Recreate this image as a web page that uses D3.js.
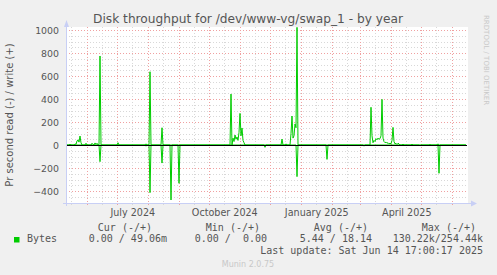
<!DOCTYPE html>
<html><head><meta charset="utf-8">
<script src="https://cdn.jsdelivr.net/npm/d3@7"></script>
<style>body{margin:0;background:#f0f0f0}svg{display:block}</style>
</head><body>
<script>
// ---- data ----
const startDate = new Date(2024, 4, 10, 17, 0, 0);
const endDate = new Date(2025, 5, 14, 17, 0, 0);
// day offsets from startDate and values (bytes/s)
const writeDays = [4, 9, 10, 11, 12, 13, 14, 15, 20, 26, 27, 29, 30, 31, 34, 52, 80, 84, 96,
  165, 167, 168, 169, 170, 171, 172, 173, 174, 175, 176, 177, 178, 216, 220,
  225, 226, 227, 228, 229, 230, 231,
  305, 306, 307, 308, 309, 310, 311, 312, 313, 314, 315, 316, 317, 318, 319, 320, 321, 322, 323, 324, 325, 326, 327, 328, 329, 330, 331, 332, 333,
  337, 346, 364, 372];
const writeValues = [8, 10, 5, 35, 45, 25, 78, 20, 15, 15, 5, 18, 5, 15, 774, 20, 10, 637, 150,
  443, 60, 30, 87, 50, 70, 40, 110, 275, 80, 148, 40, 20, 52, 10,
  100, 252, 60, 80, 183, 150, 1023,
  328, 80, 20, 40, 30, 55, 45, 60, 50, 55, 80, 397, 60, 30, 20, 25, 15, 20, 10, 15, 10, 40, 153, 30, 10, 15, 5, 15, 10,
  8, 8, 5, 10];
const readDays = [34, 80, 84, 96, 105, 113, 199, 231, 261, 298, 354, 373];
const readValues = [145, 10, 414, 157, 478, 333, 20, 275, 125, 10, 5, 246];
const yTicks = [-400, -200, 0, 200, 400, 600, 800, 1000];
const legendHeaders = ["Cur (-/+)", "Min (-/+)", "Avg (-/+)", "Max (-/+)"];
const legendValues = ["0.00 / 49.06m", "0.00 /  0.00", "5.44 / 18.14", "130.22k/254.44k"];
const seriesName = "Bytes";

// ---- layout ----
const W = 497, H = 275;
const L = 66, R = 466, T = 27, B = 203;
const svg = d3.select("body").append("svg").attr("width", W).attr("height", H)
  .style("font-family", "'DejaVu Sans', sans-serif");
svg.append("rect").attr("width", W).attr("height", H).attr("fill", "#f0f0f0");

const x = d3.scaleTime().domain([startDate, endDate]).range([L, R]);
const y = d3.scaleLinear().domain([-500, 1000]).range([202.5, 30]);

svg.append("rect").attr("x", L).attr("y", T).attr("width", R - L + 2).attr("height", B - T).attr("fill", "#fff");

const grid = svg.append("g");
// minor horizontal every 50
d3.range(-500, 1001, 50).forEach(v => {
  if (v % 200 === 0) return;
  grid.append("line").attr("x1", L).attr("x2", R + 2).attr("y1", Math.round(y(v)) + 0.5).attr("y2", Math.round(y(v)) + 0.5)
    .attr("stroke", "#d8d8d8").attr("stroke-dasharray", "1,2");
});
// minor vertical at mid-month
const months = d3.timeMonth.range(d3.timeMonth.floor(startDate), endDate);
months.forEach(m => {
  const mid = new Date(m.getFullYear(), m.getMonth(), 16);
  if (mid <= startDate || mid >= endDate) return;
  const px = Math.round(x(mid)) + 0.5;
  grid.append("line").attr("x1", px).attr("x2", px).attr("y1", T).attr("y2", B + 2)
    .attr("stroke", "#d8d8d8").attr("stroke-dasharray", "1,2");
});
// major horizontal
yTicks.forEach(v => {
  grid.append("line").attr("x1", L).attr("x2", R + 2).attr("y1", Math.round(y(v)) + 0.5).attr("y2", Math.round(y(v)) + 0.5)
    .attr("stroke", "#f0a0a0").attr("stroke-dasharray", "1,2");
});
// major vertical at month starts
d3.timeMonth.range(d3.timeMonth.ceil(startDate), endDate).forEach(m => {
  const px = Math.round(x(m)) + 0.5;
  grid.append("line").attr("x1", px).attr("x2", px).attr("y1", T).attr("y2", B + 3)
    .attr("stroke", "#f0a0a0").attr("stroke-dasharray", "1,2");
});

// series
function dense(days, vals, sign) {
  const n = d3.timeDay.count(startDate, endDate);
  const arr = new Array(n + 1).fill(0);
  days.forEach((d, i) => { arr[d] = sign * vals[i]; });
  return arr.map((v, i) => [d3.timeDay.offset(startDate, i), v]);
}
const line = d3.line().x(d => x(d[0])).y(d => y(d[1]));
svg.append("path").datum(dense(writeDays, writeValues, 1)).attr("d", line)
  .attr("fill", "none").attr("stroke", "#00cc00").attr("stroke-width", 1);
svg.append("path").datum(dense(readDays, readValues, -1)).attr("d", line)
  .attr("fill", "none").attr("stroke", "#00cc00").attr("stroke-width", 1);

// zero line
svg.append("line").attr("x1", L).attr("x2", R + 1).attr("y1", Math.round(y(0)) + 0.5).attr("y2", Math.round(y(0)) + 0.5)
  .attr("stroke", "#000").attr("stroke-width", 1);

// axes lines
const axisCol = "#c8cff5";
svg.append("line").attr("x1", L + 0.5).attr("x2", L + 0.5).attr("y1", 24).attr("y2", B + 3).attr("stroke", axisCol);
svg.append("line").attr("x1", L - 3).attr("x2", R + 6).attr("y1", B + 0.5).attr("y2", B + 0.5).attr("stroke", axisCol);
svg.append("path").attr("d", `M${L - 2},${27} L${L + 0.5},${20} L${L + 3},${27} Z`).attr("fill", axisCol);
svg.append("path").attr("d", `M${R + 5},${B - 2.5} L${R + 11},${B + 0.5} L${R + 5},${B + 3.5} Z`).attr("fill", axisCol);

// y tick labels
const txt = "#555";
const ya = svg.append("g").attr("transform", `translate(${L},0)`)
  .call(d3.axisLeft(y).tickValues(yTicks).tickSize(0).tickPadding(7).tickFormat(d3.format("d")));
ya.select(".domain").remove();
ya.selectAll("text").attr("fill", txt).style("font-size", "9.4px").style("font-family", "'DejaVu Sans', sans-serif");

// x labels (mid-month, quarterly)
const xLabelDates = [new Date(2024, 6, 16), new Date(2024, 9, 16), new Date(2025, 0, 16), new Date(2025, 3, 16)];
const xa = svg.append("g").attr("transform", `translate(0,${B})`)
  .call(d3.axisBottom(x).tickValues(xLabelDates).tickSize(0).tickPadding(6).tickFormat(d3.timeFormat("%B %Y")));
xa.select(".domain").remove();
xa.selectAll("text").attr("fill", txt).style("font-size", "9.6px").style("font-family", "'DejaVu Sans', sans-serif");

// title
svg.append("text").attr("x", 248).attr("y", 23).attr("text-anchor", "middle").attr("fill", txt)
  .style("font-size", "12.2px").text("Disk throughput for /dev/www-vg/swap_1 - by year");
// y title
svg.append("text").attr("transform", "translate(13,115) rotate(-90)").attr("text-anchor", "middle").attr("fill", txt)
  .style("font-size", "10px").text("Pr second read (-) / write (+)");
// rrdtool
svg.append("text").attr("transform", "translate(484,15) rotate(90)").attr("fill", "#c8c8c8")
  .style("font-size", "7px").text("RRDTOOL / TOBI OETIKER");

// legend
const mono = "'DejaVu Sans Mono', monospace";
const colEnds = [152, 260, 368, 476];
const valEnds = [167, 267, 372, 483];
legendHeaders.forEach((h, i) => {
  svg.append("text").attr("x", colEnds[i]).attr("y", 231).attr("text-anchor", "end").attr("fill", txt)
    .style("font-family", mono).style("font-size", "10px").style("white-space", "pre").text(h);
});
legendValues.forEach((v, i) => {
  svg.append("text").attr("x", valEnds[i]).attr("y", 242).attr("text-anchor", "end").attr("fill", txt)
    .style("font-family", mono).style("font-size", "10px").attr("xml:space", "preserve").style("white-space", "pre").text(v);
});
svg.append("rect").attr("x", 14).attr("y", 237).attr("width", 5.5).attr("height", 5.5).attr("fill", "#00cc00");
svg.append("text").attr("x", 27).attr("y", 242).attr("fill", txt)
  .style("font-family", mono).style("font-size", "10px").text(seriesName);
svg.append("text").attr("x", 483).attr("y", 254).attr("text-anchor", "end").attr("fill", txt)
  .style("font-family", mono).style("font-size", "10px").text("Last update: Sat Jun 14 17:00:17 2025");
svg.append("text").attr("x", 248).attr("y", 267).attr("text-anchor", "middle").attr("fill", "#c8c8c8")
  .style("font-size", "8px").text("Munin 2.0.75");
</script>
</body></html>
